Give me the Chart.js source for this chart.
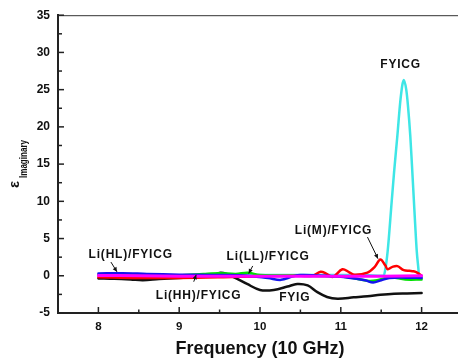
<!DOCTYPE html>
<html>
<head>
<meta charset="utf-8">
<script src="https://cdn.jsdelivr.net/npm/chart.js@4.4.1/dist/chart.umd.min.js"></script>
<style>
html,body{margin:0;padding:0;background:#fff;overflow:hidden;}
#wrap{width:462px;height:362px;position:relative;}
</style>
</head>
<body>
<div id="wrap"><canvas id="c"></canvas></div>
<script>
// ---- data (frequency in units of 10 GHz, epsilon imaginary) ----
const fyigX = [8.0, 8.2, 8.4, 8.55, 8.75, 9.0, 9.2, 9.4, 9.51, 9.6, 9.68, 9.84, 10.0, 10.17, 10.34, 10.46, 10.59, 10.71, 10.83, 10.96, 11.16, 11.33, 11.49, 11.66, 11.82, 12.0];
const fyigY = [-0.35, -0.4, -0.5, -0.6, -0.45, -0.3, -0.15, 0.0, 0.4, 0.2, -0.2, -1.1, -1.9, -1.9, -1.45, -1.1, -1.3, -2.2, -2.85, -3.07, -2.9, -2.76, -2.55, -2.4, -2.37, -2.33];

const fyicgX = [8.0, 8.5, 9.0, 9.5, 10.0, 10.5, 11.0, 11.3, 11.5, 11.53, 11.55, 11.58, 11.63, 11.66, 11.70, 11.74, 11.78, 11.81, 11.83, 11.86, 11.88, 11.905, 11.92, 11.94, 11.96, 11.97, 12.0];
const fyicgY = [0.1, 0.1, 0.05, 0.05, 0.1, 0.1, 0.1, 0.1, 0.0, 0.0, 0.8, 3.3, 10.0, 14.0, 18.8, 23.8, 26.3, 25.0, 23.0, 18.8, 15.0, 10.0, 7.0, 3.3, 1.0, -0.2, -0.3];

const limX = [8.0, 8.5, 9.0, 9.5, 10.0, 10.5, 10.65, 10.75, 10.82, 10.9, 11.02, 11.1, 11.17, 11.33, 11.42, 11.49, 11.55, 11.58, 11.64, 11.70, 11.78, 11.85, 11.9, 11.95, 12.0];
const limY = [-0.2, -0.3, -0.3, -0.2, -0.05, 0.0, 0.0, 0.55, 0.3, -0.15, 0.88, 0.5, 0.13, 0.43, 1.2, 2.2, 1.4, 0.88, 1.2, 1.3, 0.75, 0.66, 0.6, 0.4, 0.0];

const hhX = [8.0, 8.3, 8.6, 9.0, 9.4, 9.8, 10.1, 10.26, 10.4, 10.5, 10.8, 11.1, 11.3, 11.4, 11.5, 11.6, 11.8, 12.0];
const hhY = [0.3, 0.35, 0.25, 0.15, 0.1, 0.05, -0.3, -0.55, -0.1, 0.1, 0.0, -0.25, -0.6, -0.9, -0.6, -0.3, -0.25, -0.3];

const llX = [8.0, 8.2, 8.5, 9.0, 9.3, 9.5, 9.7, 9.85, 10.0, 10.5, 11.0, 11.2, 11.35, 11.45, 11.6, 11.8, 12.0];
const llY = [0.1, 0.25, 0.15, 0.05, 0.25, 0.35, 0.25, 0.4, 0.1, 0.0, -0.1, -0.4, -0.7, -0.6, -0.2, -0.5, -0.5];

const hlX = [8.0, 8.5, 9.0, 9.5, 10.0, 10.5, 11.0, 11.5, 12.0];
const hlY = [0.05, 0.0, -0.05, -0.05, -0.05, -0.05, -0.05, -0.05, 0.0];

const xTicks = [8, 8.5, 9, 9.5, 10, 10.5, 11, 11.5, 12];
const yTicks = [-5, -2.5, 0, 2.5, 5, 7.5, 10, 12.5, 15, 17.5, 20, 22.5, 25, 27.5, 30, 32.5, 35];

const labelTexts = ['FYICG', 'Li(M)/FYICG', 'Li(HL)/FYICG', 'Li(LL)/FYICG', 'Li(HH)/FYICG', 'FYIG'];
// ------------------------------------------------------------

function pts(xs, ys){ return xs.map((x,i)=>({x:x, y:ys[i]})); }

const FONT = '"Liberation Sans", Arial, sans-serif';

const annotations = [
  {text: labelTexts[0], at:[11.74, 28.3]},
  {text: labelTexts[1], at:[10.91, 6.0], arrow:[[11.33, 5.2],[11.46, 2.3]]},
  {text: labelTexts[2], at:[8.40, 2.85], arrow:[[8.155, 1.84],[8.23, 0.53]]},
  {text: labelTexts[3], at:[10.10, 2.63], arrow:[[9.91, 1.32],[9.86, 0.3]]},
  {text: labelTexts[4], at:[9.24, -2.72], arrow:[[9.18, -0.8],[9.21, 0.13]]},
  {text: labelTexts[5], at:[10.43, -2.93]}
];

const decor = {
  id:'decor',
  afterDatasetsDraw(chart){
    const ctx = chart.ctx, xs = chart.scales.x, ys = chart.scales.y, a = chart.chartArea;
    ctx.save();
    // top frame line
    ctx.strokeStyle = '#333'; ctx.lineWidth = 1;
    ctx.beginPath(); ctx.moveTo(a.left, a.top + 0.5); ctx.lineTo(a.right, a.top + 0.5); ctx.stroke();
    // inward ticks
    ctx.strokeStyle = '#222'; ctx.lineWidth = 1.5;
    xs.ticks.forEach(t=>{
      const p = xs.getPixelForValue(t.value);
      const len = Number.isInteger(t.value) ? 6 : 3.5;
      ctx.beginPath(); ctx.moveTo(p, a.bottom); ctx.lineTo(p, a.bottom - len); ctx.stroke();
    });
    ys.ticks.forEach(t=>{
      const p = ys.getPixelForValue(t.value);
      const len = (t.value % 5 === 0) ? 6 : 4;
      ctx.beginPath(); ctx.moveTo(a.left, p); ctx.lineTo(a.left + len, p); ctx.stroke();
    });
    // annotations
    ctx.fillStyle = '#111'; ctx.strokeStyle = '#111';
    ctx.font = 'bold 12px ' + FONT;
    ctx.letterSpacing = '0.8px';
    ctx.textAlign = 'center'; ctx.textBaseline = 'middle';
    annotations.forEach(an=>{
      const px = xs.getPixelForValue(an.at[0]), py = ys.getPixelForValue(an.at[1]);
      ctx.fillText(an.text, px, py);
      if (an.arrow){
        const x1 = xs.getPixelForValue(an.arrow[0][0]), y1 = ys.getPixelForValue(an.arrow[0][1]);
        const x2 = xs.getPixelForValue(an.arrow[1][0]), y2 = ys.getPixelForValue(an.arrow[1][1]);
        ctx.lineWidth = 1;
        ctx.beginPath(); ctx.moveTo(x1, y1); ctx.lineTo(x2, y2); ctx.stroke();
        const ang = Math.atan2(y2 - y1, x2 - x1), L = 5, W = 0.45;
        ctx.beginPath();
        ctx.moveTo(x2, y2);
        ctx.lineTo(x2 - L*Math.cos(ang - W), y2 - L*Math.sin(ang - W));
        ctx.lineTo(x2 - L*Math.cos(ang + W), y2 - L*Math.sin(ang + W));
        ctx.closePath(); ctx.fill();
      }
    });
    ctx.letterSpacing = '0px';
    // y-axis title with subscript
    ctx.translate(0, 188);
    ctx.rotate(-Math.PI/2);
    ctx.textAlign = 'left'; ctx.textBaseline = 'alphabetic';
    ctx.font = 'bold 15px ' + FONT;
    ctx.fillText('\u03B5', 0, 19);
    ctx.font = 'bold 10px ' + FONT;
    const w = ctx.measureText('Imaginary').width;
    ctx.save();
    ctx.translate(10, 26.5);
    ctx.scale(38 / w, 1);
    ctx.fillText('Imaginary', 0, 0);
    ctx.restore();
    ctx.restore();
  }
};

const common = {pointRadius:0, fill:false, tension:0.35, borderCapStyle:'round', borderJoinStyle:'round'};

new Chart(document.getElementById('c'), {
  type:'line',
  data:{
    datasets:[
      Object.assign({label:'Li(HL)/FYICG', data:pts(hlX, hlY), borderColor:'#ff00ff', borderWidth:3}, common),
      Object.assign({label:'Li(HH)/FYICG', data:pts(hhX, hhY), borderColor:'#1414ee', borderWidth:2.5}, common),
      Object.assign({label:'Li(LL)/FYICG', data:pts(llX, llY), borderColor:'#00e000', borderWidth:2.5}, common),
      Object.assign({label:'Li(M)/FYICG', data:pts(limX, limY), borderColor:'#ff0000', borderWidth:2.5}, common),
      Object.assign({label:'FYICG', data:pts(fyicgX, fyicgY), borderColor:'#3ee6e6', borderWidth:2.5}, common, {cubicInterpolationMode:'monotone'}),
      Object.assign({label:'FYIG', data:pts(fyigX, fyigY), borderColor:'#111111', borderWidth:2.5}, common)
    ]
  },
  options:{
    responsive:true, maintainAspectRatio:false, animation:false,
    layout:{padding:{top:9, left:0, right:0, bottom:0}},
    plugins:{legend:{display:false}, tooltip:{enabled:false}},
    scales:{
      x:{
        type:'linear', min:7.5, max:12.5,
        afterBuildTicks(s){ s.ticks = xTicks.map(v=>({value:v})); },
        afterFit(s){ s.height = 49; },
        grid:{display:false, drawTicks:false},
        border:{display:true, color:'#222', width:2},
        ticks:{
          padding:7, color:'#111', font:{family:FONT, size:11.5, weight:'bold'},
          maxRotation:0, autoSkip:false,
          callback:(v)=> Number.isInteger(v) ? String(v) : ''
        },
        title:{display:true, text:'Frequency (10 GHz)', color:'#111',
          font:{family:FONT, size:18, weight:'bold'}, padding:{top:0, bottom:2}}
      },
      y:{
        type:'linear', min:-5, max:35,
        afterBuildTicks(s){ s.ticks = yTicks.map(v=>({value:v})); },
        afterFit(s){ s.width = 58; },
        grid:{display:false, drawTicks:false},
        border:{display:true, color:'#222', width:2},
        ticks:{
          padding:8, color:'#111', font:{family:FONT, size:12, weight:'bold'},
          autoSkip:false,
          callback:(v)=> (v % 5 === 0) ? String(v) : ''
        }
      }
    }
  },
  plugins:[decor]
});
</script>
</body>
</html>
